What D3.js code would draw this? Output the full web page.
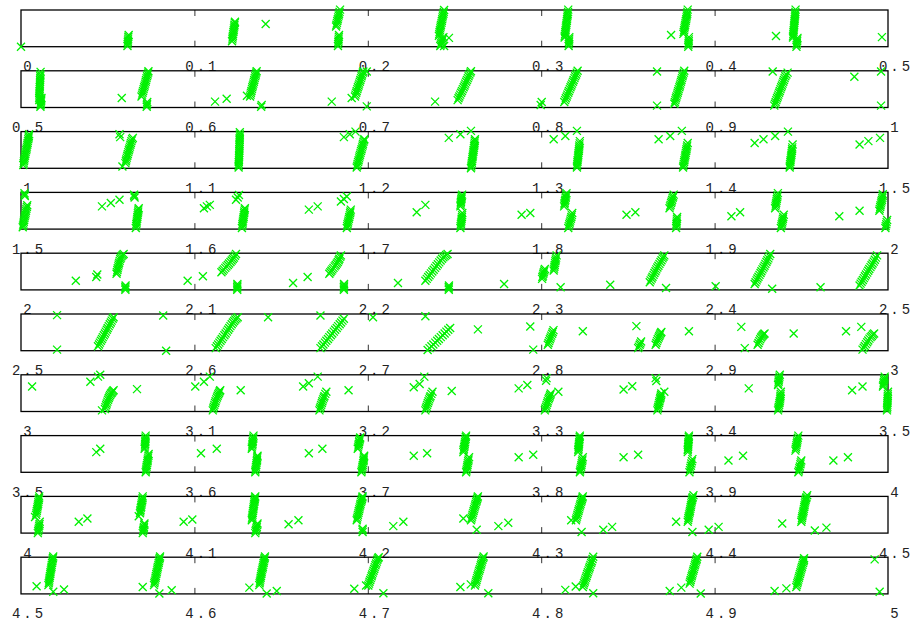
<!DOCTYPE html>
<html>
<head>
<meta charset="utf-8">
<script src="https://cdn.jsdelivr.net/npm/d3@7"></script>
<style>
  body { margin: 0; background: #fff; }
  .tick line { stroke: #333; stroke-width: 1; }
  .lab text { font-family: "Liberation Mono", "DejaVu Sans Mono", monospace; font-size: 14px; fill: #222; letter-spacing: 3px; }
</style>
</head>
<body>
<div id="chart"></div>
<script>
// each strip shows half a unit of x, y runs 0..1 inside the strip
const stripWidth = 0.5

const strip0 = [
  [0.0000,0.00],
  [0.0614,0.02],[0.0615,0.07],[0.0616,0.12],[0.0617,0.17],[0.0618,0.22],[0.0619,0.27],[0.0621,0.32],
  [0.1217,0.15],[0.1219,0.20],[0.1220,0.25],[0.1222,0.30],[0.1223,0.35],[0.1225,0.40],[0.1227,0.45],[0.1228,0.50],[0.1230,0.55],[0.1231,0.60],[0.1233,0.65],[0.1234,0.68],
  [0.1411,0.62],
  [0.1817,0.55],[0.1819,0.60],[0.1822,0.65],[0.1824,0.70],[0.1827,0.75],[0.1829,0.80],[0.1832,0.85],[0.1834,0.90],[0.1837,0.95],[0.1840,1.01],
  [0.1828,0.02],[0.1829,0.07],[0.1830,0.12],[0.1831,0.17],[0.1832,0.22],[0.1833,0.27],[0.1834,0.32],
  [0.2410,0.30],[0.2412,0.35],[0.2414,0.40],[0.2416,0.45],[0.2418,0.50],[0.2420,0.55],[0.2422,0.60],[0.2425,0.65],[0.2427,0.70],[0.2429,0.75],[0.2431,0.80],[0.2433,0.85],[0.2436,0.90],[0.2438,0.95],[0.2440,1.00],
  [0.2418,0.02],[0.2421,0.06],[0.2424,0.10],[0.2427,0.14],[0.2430,0.18],[0.2433,0.22],[0.2436,0.26],[0.2468,0.24],[0.2440,0.02],
  [0.3135,0.25],[0.3136,0.30],[0.3138,0.35],[0.3139,0.40],[0.3141,0.45],[0.3142,0.50],[0.3143,0.55],[0.3145,0.60],[0.3146,0.65],[0.3148,0.70],[0.3149,0.75],[0.3150,0.80],[0.3152,0.85],[0.3153,0.90],[0.3155,0.95],[0.3156,1.01],
  [0.3158,0.02],[0.3159,0.07],[0.3160,0.12],[0.3161,0.17],[0.3162,0.22],[0.3162,0.26],
  [0.3749,0.32],
  [0.3820,0.35],[0.3822,0.40],[0.3824,0.45],[0.3826,0.50],[0.3828,0.55],[0.3830,0.60],[0.3832,0.65],[0.3834,0.70],[0.3836,0.75],[0.3838,0.80],[0.3840,0.85],[0.3842,0.90],[0.3843,0.95],[0.3845,1.01],
  [0.3848,0.00],[0.3849,0.05],[0.3850,0.10],[0.3851,0.15],[0.3851,0.20],[0.3852,0.26],
  [0.4354,0.29],
  [0.4452,0.25],[0.4453,0.30],[0.4454,0.35],[0.4455,0.40],[0.4456,0.45],[0.4457,0.50],[0.4458,0.55],[0.4459,0.60],[0.4460,0.65],[0.4461,0.70],[0.4462,0.75],[0.4463,0.80],[0.4464,0.85],[0.4465,0.90],[0.4466,0.95],[0.4467,1.01],
  [0.4472,0.00],[0.4473,0.05],[0.4474,0.10],[0.4476,0.15],[0.4477,0.20],[0.4478,0.24],
  [0.4965,0.26]
]

const strip1 = [
  [0.5105,0.20],[0.5105,0.25],[0.5106,0.30],[0.5106,0.35],[0.5107,0.40],[0.5107,0.45],[0.5108,0.50],[0.5108,0.55],[0.5109,0.60],[0.5109,0.65],[0.5110,0.70],[0.5110,0.75],[0.5111,0.80],[0.5111,0.85],[0.5112,0.90],[0.5113,0.97],
  [0.5112,0.02],[0.5113,0.06],[0.5114,0.10],[0.5115,0.14],[0.5116,0.18],[0.5117,0.22],[0.5118,0.26],
  [0.5581,0.26],
  [0.5695,0.30],[0.5698,0.35],[0.5701,0.40],[0.5704,0.45],[0.5707,0.50],[0.5710,0.55],[0.5713,0.60],[0.5716,0.65],[0.5719,0.70],[0.5721,0.75],[0.5724,0.80],[0.5727,0.85],[0.5730,0.90],[0.5733,0.95],[0.5735,0.99],
  [0.5725,0.02],[0.5726,0.06],[0.5727,0.10],[0.5728,0.15],
  [0.6119,0.16],[0.6186,0.24],[0.6303,0.32],
  [0.6321,0.30],[0.6324,0.35],[0.6326,0.40],[0.6329,0.45],[0.6332,0.50],[0.6334,0.55],[0.6337,0.60],[0.6340,0.65],[0.6343,0.70],[0.6345,0.75],[0.6348,0.80],[0.6351,0.85],[0.6354,0.90],[0.6356,0.95],[0.6359,0.99],
  [0.6388,0.07],[0.6385,0.02],
  [0.6792,0.16],[0.6907,0.26],
  [0.6926,0.30],[0.6929,0.35],[0.6933,0.40],[0.6936,0.45],[0.6940,0.50],[0.6943,0.55],[0.6947,0.60],[0.6950,0.65],[0.6954,0.70],[0.6957,0.75],[0.6961,0.80],[0.6964,0.85],[0.6967,0.90],[0.6971,0.95],[0.6974,0.98],
  [0.6994,0.98],[0.6994,0.03],
  [0.7388,0.16],
  [0.7518,0.20],[0.7523,0.25],[0.7528,0.30],[0.7533,0.35],[0.7538,0.40],[0.7543,0.45],[0.7548,0.50],[0.7553,0.55],[0.7558,0.60],[0.7562,0.65],[0.7567,0.70],[0.7572,0.75],[0.7577,0.80],[0.7581,0.85],[0.7586,0.90],[0.7591,0.95],[0.7595,0.99],
  [0.7997,0.07],[0.8003,0.15],
  [0.8133,0.15],[0.8138,0.20],[0.8142,0.25],[0.8147,0.30],[0.8151,0.35],[0.8156,0.40],[0.8160,0.45],[0.8165,0.50],[0.8169,0.55],[0.8174,0.60],[0.8178,0.65],[0.8183,0.70],[0.8187,0.75],[0.8192,0.80],[0.8196,0.85],[0.8201,0.90],[0.8205,0.95],[0.8210,1.00],
  [0.8668,0.98],[0.8668,0.05],
  [0.8768,0.10],[0.8771,0.15],[0.8774,0.20],[0.8777,0.25],[0.8780,0.30],[0.8784,0.35],[0.8787,0.40],[0.8790,0.45],[0.8793,0.50],[0.8797,0.55],[0.8800,0.60],[0.8803,0.65],[0.8806,0.70],[0.8809,0.75],[0.8812,0.80],[0.8815,0.85],[0.8818,0.90],[0.8822,0.95],[0.8825,1.00],
  [0.9335,0.98],
  [0.9344,0.05],[0.9348,0.10],[0.9352,0.15],[0.9356,0.20],[0.9360,0.25],[0.9364,0.30],[0.9368,0.35],[0.9372,0.40],[0.9376,0.45],[0.9380,0.50],[0.9384,0.55],[0.9388,0.60],[0.9392,0.65],[0.9396,0.70],[0.9400,0.75],[0.9404,0.80],[0.9408,0.85],[0.9414,0.90],[0.9421,0.95],
  [0.9806,0.84],[0.9960,0.98],[0.9960,0.05]
]

const strip2 = [
  [1.0013,0.09],[1.0015,0.14],[1.0017,0.19],[1.0019,0.24],[1.0021,0.29],[1.0023,0.34],[1.0025,0.39],[1.0027,0.44],[1.0030,0.49],[1.0032,0.54],[1.0034,0.59],[1.0036,0.64],[1.0038,0.69],[1.0040,0.74],[1.0042,0.79],[1.0044,0.84],[1.0045,0.88],[1.0047,0.93],
  [1.0568,0.93],[1.0572,0.85],[1.0585,0.05],
  [1.0602,0.14],[1.0605,0.19],[1.0607,0.24],[1.0610,0.29],[1.0613,0.34],[1.0616,0.39],[1.0619,0.44],[1.0622,0.49],[1.0625,0.54],[1.0628,0.59],[1.0631,0.64],[1.0634,0.69],[1.0637,0.74],[1.0641,0.79],[1.0645,0.83],
  [1.1255,0.02],[1.1255,0.07],[1.1256,0.12],[1.1256,0.17],[1.1257,0.22],[1.1257,0.27],[1.1258,0.32],[1.1258,0.37],[1.1259,0.42],[1.1259,0.47],[1.1259,0.52],[1.1260,0.57],[1.1260,0.62],[1.1260,0.67],[1.1261,0.72],[1.1261,0.77],[1.1261,0.82],[1.1262,0.87],[1.1262,0.92],[1.1262,0.98],
  [1.1862,0.85],[1.1896,0.93],[1.1929,1.00],
  [1.1936,0.02],[1.1939,0.07],[1.1941,0.12],[1.1944,0.17],[1.1947,0.22],[1.1950,0.27],[1.1952,0.32],[1.1955,0.37],[1.1958,0.42],[1.1961,0.47],[1.1964,0.52],[1.1967,0.57],[1.1970,0.62],[1.1972,0.67],[1.1975,0.72],[1.1978,0.76],[1.1980,0.79],
  [1.2467,0.83],[1.2534,0.93],[1.2595,1.02],
  [1.2595,0.00],[1.2597,0.05],[1.2598,0.10],[1.2600,0.15],[1.2601,0.20],[1.2603,0.25],[1.2604,0.30],[1.2606,0.35],[1.2607,0.40],[1.2609,0.45],[1.2610,0.50],[1.2612,0.55],[1.2613,0.60],[1.2615,0.65],[1.2616,0.70],[1.2617,0.75],[1.2618,0.79],
  [1.3072,0.79],[1.3139,0.88],[1.3206,1.02],
  [1.3206,0.02],[1.3207,0.07],[1.3208,0.12],[1.3209,0.17],[1.3210,0.22],[1.3212,0.27],[1.3213,0.32],[1.3214,0.37],[1.3215,0.42],[1.3217,0.47],[1.3218,0.52],[1.3219,0.57],[1.3220,0.62],[1.3222,0.68],[1.3223,0.74],
  [1.3677,0.79],[1.3744,0.88],[1.3811,1.02],
  [1.3818,0.02],[1.3820,0.07],[1.3822,0.12],[1.3824,0.17],[1.3826,0.22],[1.3828,0.27],[1.3830,0.32],[1.3832,0.37],[1.3834,0.42],[1.3836,0.47],[1.3838,0.52],[1.3840,0.57],[1.3842,0.62],[1.3845,0.69],
  [1.4231,0.69],[1.4282,0.79],[1.4349,0.88],[1.4423,1.00],
  [1.4433,0.02],[1.4434,0.07],[1.4435,0.12],[1.4437,0.17],[1.4438,0.22],[1.4440,0.27],[1.4441,0.32],[1.4443,0.37],[1.4444,0.42],[1.4446,0.47],[1.4447,0.52],[1.4448,0.57],[1.4450,0.65],
  [1.4836,0.65],[1.4887,0.74],[1.4954,0.83]
]

const strip3 = [
  [1.5020,0.98],[1.5021,0.94],[1.5022,0.90],
  [1.5010,0.05],[1.5012,0.10],[1.5014,0.15],[1.5016,0.20],[1.5018,0.25],[1.5020,0.30],[1.5022,0.35],[1.5025,0.40],[1.5027,0.45],[1.5029,0.50],[1.5031,0.55],[1.5034,0.60],[1.5036,0.65],
  [1.5467,0.62],[1.5518,0.71],[1.5568,0.80],[1.5652,0.94],[1.5653,0.90],[1.5655,0.86],
  [1.5662,0.03],[1.5664,0.08],[1.5665,0.13],[1.5667,0.18],[1.5668,0.23],[1.5670,0.28],[1.5671,0.33],[1.5673,0.38],[1.5674,0.43],[1.5676,0.48],[1.5677,0.53],[1.5679,0.57],
  [1.6055,0.57],[1.6072,0.62],[1.6089,0.66],[1.6240,0.80],[1.6250,0.86],[1.6257,0.93],
  [1.6274,0.03],[1.6276,0.08],[1.6277,0.13],[1.6279,0.18],[1.6280,0.23],[1.6282,0.28],[1.6284,0.33],[1.6285,0.38],[1.6287,0.43],[1.6288,0.48],[1.6290,0.53],[1.6291,0.57],
  [1.6660,0.53],[1.6711,0.62],[1.6845,0.75],[1.6862,0.82],[1.6879,0.89],
  [1.6879,0.03],[1.6881,0.08],[1.6883,0.13],[1.6886,0.18],[1.6888,0.23],[1.6891,0.28],[1.6893,0.33],[1.6896,0.38],[1.6898,0.43],[1.6900,0.48],[1.6902,0.53],
  [1.7282,0.46],[1.7332,0.66],
  [1.7534,0.62],[1.7535,0.66],[1.7536,0.70],[1.7537,0.74],[1.7538,0.78],[1.7540,0.82],[1.7541,0.86],[1.7542,0.90],[1.7544,0.94],
  [1.7534,0.03],[1.7535,0.08],[1.7537,0.13],[1.7538,0.18],[1.7540,0.23],[1.7541,0.28],[1.7543,0.33],[1.7544,0.38],[1.7545,0.44],
  [1.7887,0.39],[1.7937,0.44],
  [1.8132,0.62],[1.8134,0.67],[1.8135,0.71],[1.8137,0.76],[1.8139,0.80],[1.8141,0.85],[1.8142,0.89],[1.8144,0.94],[1.8146,0.98],
  [1.8156,0.03],[1.8159,0.08],[1.8162,0.13],[1.8165,0.18],[1.8168,0.23],[1.8171,0.28],[1.8174,0.33],[1.8177,0.38],[1.8179,0.44],
  [1.8492,0.39],[1.8543,0.46],
  [1.8740,0.57],[1.8743,0.62],[1.8746,0.66],[1.8749,0.71],[1.8752,0.75],[1.8755,0.80],[1.8758,0.85],[1.8761,0.89],[1.8764,0.94],
  [1.8778,0.03],[1.8779,0.08],[1.8780,0.13],[1.8781,0.18],[1.8782,0.23],[1.8783,0.28],[1.8784,0.33],
  [1.9097,0.35],[1.9147,0.46],
  [1.9349,0.57],[1.9351,0.62],[1.9353,0.67],[1.9355,0.72],[1.9357,0.77],[1.9359,0.82],[1.9361,0.87],[1.9363,0.92],[1.9365,0.98],
  [1.9382,0.03],[1.9385,0.08],[1.9387,0.13],[1.9390,0.18],[1.9392,0.23],[1.9394,0.28],[1.9396,0.33],[1.9399,0.39],
  [1.9719,0.35],[1.9836,0.50],
  [1.9950,0.50],[1.9952,0.55],[1.9955,0.60],[1.9957,0.65],[1.9960,0.70],[1.9962,0.75],[1.9965,0.80],[1.9967,0.85],[1.9969,0.90],[1.9970,0.95],
  [1.9985,0.03],[1.9987,0.08],[1.9990,0.13],[1.9992,0.19],[1.9995,0.25]
]

const strip4 = [
  [2.0316,0.25],[2.0434,0.35],[2.0440,0.42],
  [2.0551,0.44],[2.0553,0.49],[2.0556,0.54],[2.0558,0.59],[2.0561,0.64],[2.0563,0.69],[2.0566,0.74],[2.0569,0.79],[2.0572,0.84],[2.0576,0.88],[2.0580,0.92],[2.0586,0.95],[2.0592,0.98],
  [2.0602,0.00],[2.0602,0.04],[2.0602,0.08],[2.0603,0.12],
  [2.0961,0.25],[2.1049,0.37],
  [2.1156,0.48],[2.1163,0.52],[2.1170,0.56],[2.1178,0.60],[2.1185,0.64],[2.1193,0.68],[2.1200,0.72],[2.1208,0.76],[2.1215,0.80],[2.1222,0.84],[2.1228,0.88],[2.1234,0.93],[2.1240,0.98],
  [2.1247,0.00],[2.1247,0.04],[2.1247,0.08],[2.1248,0.12],[2.1248,0.16],
  [2.1569,0.19],[2.1653,0.35],
  [2.1778,0.44],[2.1784,0.48],[2.1790,0.52],[2.1796,0.56],[2.1802,0.60],[2.1809,0.64],[2.1815,0.68],[2.1821,0.72],[2.1827,0.76],[2.1832,0.81],[2.1836,0.85],[2.1841,0.90],[2.1845,0.94],
  [2.1862,0.00],[2.1862,0.04],[2.1862,0.08],[2.1863,0.12],[2.1863,0.16],
  [2.2174,0.19],
  [2.2332,0.25],[2.2340,0.30],[2.2348,0.35],[2.2356,0.40],[2.2364,0.45],[2.2372,0.50],[2.2380,0.55],[2.2388,0.60],[2.2396,0.65],[2.2404,0.70],[2.2412,0.75],[2.2420,0.80],[2.2428,0.85],[2.2436,0.89],[2.2444,0.92],[2.2452,0.95],[2.2460,0.98],
  [2.2467,0.00],[2.2467,0.04],[2.2467,0.08],[2.2468,0.12],
  [2.2786,0.16],
  [2.3005,0.30],[2.3007,0.35],[2.3010,0.39],[2.3012,0.44],[2.3015,0.48],[2.3018,0.53],[2.3021,0.57],
  [2.3072,0.53],[2.3074,0.58],[2.3076,0.63],[2.3078,0.68],[2.3080,0.73],[2.3082,0.78],[2.3084,0.83],[2.3086,0.88],[2.3089,0.94],
  [2.3112,0.07],
  [2.3398,0.14],
  [2.3626,0.21],[2.3631,0.26],[2.3637,0.31],[2.3642,0.36],[2.3648,0.41],[2.3653,0.46],[2.3659,0.51],[2.3664,0.56],[2.3670,0.61],[2.3676,0.66],[2.3682,0.71],[2.3688,0.76],[2.3694,0.81],[2.3700,0.86],[2.3705,0.90],[2.3710,0.94],
  [2.3720,0.05],
  [2.4006,0.10],
  [2.4231,0.16],[2.4236,0.21],[2.4242,0.26],[2.4247,0.31],[2.4253,0.36],[2.4259,0.41],[2.4265,0.46],[2.4270,0.51],[2.4276,0.56],[2.4282,0.61],[2.4288,0.66],[2.4293,0.71],[2.4299,0.76],[2.4304,0.81],[2.4310,0.86],[2.4315,0.92],[2.4321,0.98],
  [2.4332,0.03],
  [2.4611,0.07],
  [2.4836,0.12],[2.4842,0.17],[2.4848,0.22],[2.4855,0.27],[2.4861,0.32],[2.4867,0.37],[2.4873,0.42],[2.4880,0.47],[2.4886,0.52],[2.4892,0.57],[2.4899,0.62],[2.4905,0.67],[2.4911,0.72],[2.4918,0.77],[2.4924,0.82],[2.4930,0.88],[2.4937,0.94]
]

const strip5 = [
  [2.5208,0.97],[2.5208,0.03],
  [2.5444,0.12],[2.5450,0.17],[2.5455,0.22],[2.5461,0.27],[2.5467,0.32],[2.5472,0.37],[2.5478,0.42],[2.5484,0.47],[2.5489,0.52],[2.5495,0.57],[2.5500,0.62],[2.5506,0.67],[2.5512,0.72],[2.5518,0.77],[2.5523,0.82],[2.5529,0.87],[2.5534,0.91],
  [2.5820,0.96],[2.5837,0.00],
  [2.6123,0.07],[2.6130,0.12],[2.6137,0.17],[2.6144,0.22],[2.6151,0.27],[2.6158,0.32],[2.6165,0.37],[2.6173,0.42],[2.6180,0.47],[2.6187,0.52],[2.6194,0.57],[2.6201,0.62],[2.6208,0.67],[2.6215,0.72],[2.6222,0.77],[2.6229,0.81],[2.6236,0.85],[2.6243,0.88],[2.6250,0.91],
  [2.6425,0.91],[2.6727,0.96],
  [2.6727,0.07],[2.6736,0.12],[2.6744,0.17],[2.6753,0.22],[2.6761,0.27],[2.6770,0.32],[2.6778,0.37],[2.6787,0.42],[2.6795,0.47],[2.6804,0.52],[2.6812,0.57],[2.6821,0.62],[2.6829,0.67],[2.6838,0.72],[2.6846,0.77],[2.6854,0.82],[2.6862,0.87],
  [2.7030,0.91],[2.7332,0.94],
  [2.7345,0.02],[2.7356,0.07],[2.7367,0.12],[2.7378,0.17],[2.7389,0.22],[2.7400,0.27],[2.7410,0.32],[2.7421,0.37],[2.7432,0.42],[2.7443,0.47],[2.7453,0.52],[2.7464,0.57],[2.7475,0.62],
  [2.7635,0.58],[2.7937,0.66],[2.7954,0.03],
  [2.8038,0.16],[2.8042,0.21],[2.8046,0.26],[2.8050,0.31],[2.8054,0.36],[2.8058,0.41],[2.8063,0.46],[2.8067,0.51],[2.8071,0.56],
  [2.8240,0.53],[2.8549,0.67],
  [2.8559,0.07],[2.8563,0.11],[2.8568,0.16],[2.8572,0.20],[2.8576,0.25],
  [2.8660,0.16],[2.8664,0.21],[2.8668,0.26],[2.8672,0.31],[2.8677,0.36],[2.8681,0.40],[2.8685,0.44],[2.8689,0.48],[2.8693,0.51],
  [2.8852,0.53],[2.9154,0.65],[2.9174,0.07],
  [2.9248,0.16],[2.9253,0.21],[2.9258,0.26],[2.9263,0.31],[2.9268,0.36],[2.9273,0.39],[2.9278,0.42],[2.9283,0.45],[2.9288,0.47],
  [2.9456,0.47],[2.9758,0.53],[2.9846,0.65],
  [2.9853,0.03],[2.9860,0.08],[2.9866,0.13],[2.9873,0.18],[2.9880,0.23],[2.9886,0.28],[2.9893,0.33],[2.9900,0.37],[2.9907,0.40],[2.9913,0.44],[2.9920,0.47]
]

const strip6 = [
  [3.0064,0.68],
  [3.0400,0.81],[3.0444,0.95],[3.0457,1.00],[3.0467,0.03],
  [3.0484,0.07],[3.0487,0.12],[3.0491,0.17],[3.0494,0.22],[3.0498,0.27],[3.0502,0.32],[3.0506,0.37],[3.0510,0.41],[3.0514,0.45],[3.0519,0.49],[3.0524,0.52],[3.0529,0.55],[3.0534,0.58],
  [3.0669,0.61],
  [3.1005,0.68],[3.1055,0.81],[3.1089,0.95],
  [3.1106,0.03],[3.1109,0.08],[3.1112,0.13],[3.1115,0.18],[3.1119,0.23],[3.1122,0.28],[3.1126,0.33],[3.1130,0.38],[3.1134,0.43],[3.1138,0.47],[3.1142,0.51],[3.1146,0.55],[3.1149,0.58],
  [3.1267,0.58],
  [3.1627,0.68],[3.1660,0.77],[3.1711,0.95],
  [3.1721,0.03],[3.1724,0.08],[3.1728,0.13],[3.1731,0.18],[3.1735,0.23],[3.1738,0.28],[3.1742,0.33],[3.1746,0.38],[3.1750,0.42],[3.1755,0.48],[3.1761,0.54],
  [3.1889,0.58],
  [3.2265,0.66],[3.2299,0.75],[3.2326,0.95],
  [3.2332,0.03],[3.2335,0.08],[3.2339,0.13],[3.2342,0.18],[3.2346,0.23],[3.2350,0.28],[3.2354,0.33],[3.2358,0.38],[3.2362,0.42],[3.2367,0.48],[3.2373,0.54],
  [3.2484,0.56],
  [3.2870,0.63],[3.2920,0.72],[3.3031,0.91],[3.3028,0.84],
  [3.3021,0.03],[3.3024,0.08],[3.3028,0.13],[3.3031,0.18],[3.3035,0.23],[3.3038,0.28],[3.3042,0.33],[3.3045,0.37],[3.3049,0.41],[3.3052,0.45],[3.3055,0.49],
  [3.3099,0.54],
  [3.3475,0.60],[3.3525,0.69],[3.3660,0.91],[3.3664,0.83],
  [3.3670,0.03],[3.3672,0.08],[3.3675,0.13],[3.3677,0.18],[3.3680,0.23],[3.3682,0.28],[3.3685,0.33],[3.3687,0.37],[3.3689,0.41],[3.3691,0.45],[3.3693,0.49],
  [3.3710,0.54],
  [3.4197,0.63],
  [3.4366,0.72],[3.4367,0.76],[3.4369,0.81],[3.4370,0.85],[3.4372,0.90],[3.4374,0.95],[3.4376,1.00],
  [3.4366,0.03],[3.4368,0.08],[3.4370,0.13],[3.4372,0.18],[3.4374,0.23],[3.4376,0.28],[3.4378,0.33],[3.4379,0.38],[3.4380,0.43],[3.4381,0.48],[3.4382,0.54],
  [3.4793,0.58],[3.4853,0.68],
  [3.4971,0.68],[3.4973,0.72],[3.4975,0.77],[3.4976,0.81],[3.4978,0.86],[3.4980,0.90],[3.4981,0.95],
  [3.4994,0.03],[3.4995,0.08],[3.4996,0.13],[3.4996,0.18],[3.4997,0.23],[3.4997,0.28],[3.4998,0.33],[3.4998,0.38],[3.4999,0.43],[3.4999,0.48],[3.5000,0.54]
]

const strip7 = [
  [3.5434,0.55],[3.5457,0.64],
  [3.5713,0.64],[3.5714,0.68],[3.5715,0.73],[3.5716,0.77],[3.5717,0.82],[3.5717,0.86],[3.5718,0.91],[3.5718,0.95],[3.5719,1.00],
  [3.5719,0.00],[3.5721,0.05],[3.5722,0.10],[3.5724,0.15],[3.5726,0.20],[3.5728,0.25],[3.5730,0.30],[3.5731,0.35],[3.5733,0.40],[3.5735,0.45],[3.5736,0.50],
  [3.6038,0.52],[3.6129,0.64],
  [3.6331,0.64],[3.6332,0.68],[3.6334,0.73],[3.6335,0.77],[3.6336,0.82],[3.6337,0.86],[3.6339,0.91],[3.6340,0.95],[3.6341,1.00],
  [3.6351,0.00],[3.6352,0.05],[3.6354,0.10],[3.6355,0.15],[3.6357,0.20],[3.6358,0.25],[3.6360,0.30],[3.6361,0.34],[3.6362,0.38],[3.6363,0.42],[3.6364,0.45],
  [3.6660,0.52],[3.6738,0.64],
  [3.6942,0.64],[3.6944,0.68],[3.6946,0.73],[3.6948,0.77],[3.6950,0.82],[3.6951,0.85],[3.6953,0.89],[3.6955,0.92],[3.6956,0.95],
  [3.6963,0.00],[3.6965,0.05],[3.6967,0.10],[3.6969,0.15],[3.6971,0.20],[3.6973,0.25],[3.6975,0.30],[3.6976,0.34],[3.6977,0.38],[3.6978,0.42],[3.6979,0.45],
  [3.7265,0.45],[3.7342,0.52],
  [3.7551,0.55],[3.7552,0.60],[3.7554,0.64],[3.7556,0.69],[3.7558,0.73],[3.7559,0.78],[3.7561,0.82],[3.7562,0.87],[3.7564,0.91],[3.7565,0.96],[3.7567,1.00],
  [3.7567,0.00],[3.7569,0.05],[3.7571,0.10],[3.7573,0.15],[3.7575,0.20],[3.7577,0.25],[3.7579,0.30],[3.7581,0.35],[3.7584,0.41],
  [3.7870,0.41],[3.7954,0.48],
  [3.8213,0.55],[3.8214,0.60],[3.8215,0.64],[3.8216,0.69],[3.8217,0.73],[3.8218,0.78],[3.8219,0.82],[3.8220,0.87],[3.8221,0.91],[3.8222,0.96],[3.8223,1.00],
  [3.8223,0.00],[3.8225,0.05],[3.8227,0.10],[3.8230,0.15],[3.8232,0.20],[3.8234,0.25],[3.8236,0.30],[3.8238,0.35],[3.8240,0.41],
  [3.8475,0.41],[3.8559,0.48],
  [3.8845,0.55],[3.8845,0.60],[3.8846,0.64],[3.8847,0.69],[3.8848,0.73],[3.8848,0.78],[3.8849,0.82],[3.8850,0.87],[3.8851,0.91],[3.8851,0.96],[3.8852,1.00],
  [3.8855,0.00],[3.8858,0.06],[3.8860,0.12],[3.8863,0.18],[3.8866,0.24],[3.8869,0.30],[3.8872,0.36],
  [3.9080,0.32],[3.9164,0.45],
  [3.9466,0.59],[3.9468,0.64],[3.9470,0.69],[3.9472,0.74],[3.9474,0.79],[3.9476,0.84],[3.9478,0.89],[3.9480,0.94],[3.9483,1.00],
  [3.9483,0.00],[3.9486,0.05],[3.9489,0.11],[3.9492,0.16],[3.9495,0.22],[3.9497,0.27],[3.9500,0.32],
  [3.9685,0.32],[3.9769,0.41]
]

const strip8 = [
  [4.0087,0.50],[4.0089,0.55],[4.0091,0.60],[4.0093,0.65],[4.0095,0.70],[4.0097,0.75],[4.0099,0.80],[4.0100,0.85],[4.0102,0.90],[4.0104,0.95],[4.0105,1.00],
  [4.0081,0.44],
  [4.0097,0.00],[4.0099,0.05],[4.0101,0.10],[4.0103,0.15],[4.0105,0.20],[4.0107,0.25],[4.0108,0.31],
  [4.0333,0.31],[4.0383,0.40],
  [4.0686,0.54],[4.0688,0.59],[4.0689,0.63],[4.0691,0.68],[4.0693,0.72],[4.0694,0.77],[4.0696,0.81],[4.0698,0.86],[4.0699,0.90],[4.0701,0.95],[4.0702,1.00],
  [4.0679,0.46],
  [4.0702,0.00],[4.0704,0.05],[4.0706,0.09],[4.0708,0.13],[4.0709,0.17],[4.0711,0.22],[4.0712,0.26],
  [4.0938,0.31],[4.0988,0.37],
  [4.1331,0.35],[4.1332,0.40],[4.1334,0.45],[4.1335,0.50],[4.1337,0.55],[4.1338,0.60],[4.1340,0.65],[4.1341,0.70],[4.1343,0.75],[4.1344,0.80],[4.1346,0.85],[4.1347,0.89],[4.1348,0.93],[4.1350,0.97],[4.1351,1.00],
  [4.1351,0.00],[4.1353,0.05],[4.1355,0.09],[4.1358,0.13],[4.1360,0.17],[4.1362,0.22],[4.1364,0.26],
  [4.1543,0.24],[4.1600,0.35],
  [4.1936,0.35],[4.1938,0.40],[4.1941,0.45],[4.1943,0.50],[4.1946,0.55],[4.1948,0.60],[4.1951,0.65],[4.1953,0.70],[4.1956,0.75],[4.1958,0.80],[4.1961,0.85],[4.1964,0.89],[4.1966,0.93],[4.1968,0.97],[4.1970,1.00],
  [4.1970,0.03],[4.1970,0.08],[4.1970,0.12],
  [4.2147,0.19],[4.2205,0.31],
  [4.2551,0.40],
  [4.2595,0.35],[4.2598,0.40],[4.2601,0.45],[4.2604,0.50],[4.2607,0.55],[4.2610,0.60],[4.2613,0.65],[4.2616,0.70],[4.2619,0.75],[4.2622,0.80],[4.2625,0.85],[4.2628,0.89],[4.2630,0.93],[4.2633,0.97],[4.2635,1.00],
  [4.2628,0.09],
  [4.2753,0.19],[4.2810,0.28],
  [4.3173,0.35],
  [4.3200,0.35],[4.3203,0.40],[4.3206,0.45],[4.3209,0.50],[4.3212,0.55],[4.3215,0.60],[4.3218,0.65],[4.3221,0.70],[4.3224,0.75],[4.3227,0.80],[4.3230,0.85],[4.3233,0.89],[4.3235,0.93],[4.3238,0.97],[4.3240,1.00],
  [4.3233,0.03],
  [4.3358,0.09],[4.3409,0.17],
  [4.3778,0.31],
  [4.3845,0.31],[4.3847,0.36],[4.3849,0.41],[4.3851,0.46],[4.3853,0.51],[4.3856,0.56],[4.3858,0.61],[4.3860,0.66],[4.3862,0.71],[4.3864,0.76],[4.3866,0.81],[4.3868,0.86],[4.3870,0.91],[4.3872,0.95],[4.3874,0.98],[4.3878,1.03],
  [4.3872,0.03],
  [4.3966,0.09],[4.4023,0.17],
  [4.4390,0.26],
  [4.4500,0.31],[4.4502,0.36],[4.4504,0.41],[4.4506,0.46],[4.4508,0.51],[4.4511,0.56],[4.4513,0.61],[4.4515,0.66],[4.4517,0.71],[4.4519,0.76],[4.4521,0.81],[4.4523,0.86],[4.4525,0.91],[4.4528,0.95],[4.4530,0.98],[4.4534,1.03],
  [4.4578,0.07],[4.4645,0.15]
]

const strip9 = [
  [4.5090,0.21],
  [4.5158,0.24],[4.5160,0.29],[4.5162,0.34],[4.5163,0.39],[4.5165,0.44],[4.5167,0.49],[4.5169,0.54],[4.5170,0.59],[4.5172,0.64],[4.5174,0.69],[4.5176,0.74],[4.5177,0.79],[4.5179,0.84],[4.5181,0.89],[4.5183,0.94],[4.5184,0.98],[4.5186,1.02],
  [4.5186,0.06],[4.5248,0.12],
  [4.5702,0.19],
  [4.5767,0.24],[4.5769,0.29],[4.5771,0.34],[4.5774,0.39],[4.5776,0.44],[4.5778,0.49],[4.5780,0.54],[4.5783,0.59],[4.5785,0.64],[4.5787,0.69],[4.5789,0.74],[4.5792,0.79],[4.5794,0.84],[4.5796,0.89],[4.5798,0.94],[4.5800,0.98],[4.5802,1.02],
  [4.5798,0.01],[4.5869,0.10],
  [4.6317,0.17],
  [4.6374,0.24],[4.6376,0.29],[4.6378,0.34],[4.6380,0.39],[4.6382,0.44],[4.6384,0.49],[4.6386,0.54],[4.6388,0.59],[4.6390,0.64],[4.6393,0.69],[4.6395,0.74],[4.6397,0.79],[4.6399,0.84],[4.6401,0.89],[4.6403,0.94],[4.6405,0.98],[4.6407,1.02],
  [4.6417,0.01],[4.6475,0.08],
  [4.6922,0.14],[4.6990,0.23],
  [4.7003,0.23],[4.7007,0.28],[4.7010,0.33],[4.7014,0.38],[4.7018,0.43],[4.7022,0.48],[4.7025,0.53],[4.7029,0.58],[4.7033,0.63],[4.7037,0.68],[4.7040,0.73],[4.7044,0.78],[4.7048,0.83],[4.7052,0.88],[4.7055,0.93],[4.7059,0.97],[4.7063,1.00],
  [4.7090,0.02],
  [4.7534,0.19],[4.7594,0.26],
  [4.7618,0.23],[4.7621,0.28],[4.7624,0.33],[4.7627,0.38],[4.7630,0.43],[4.7633,0.48],[4.7636,0.53],[4.7639,0.58],[4.7642,0.63],[4.7646,0.68],[4.7649,0.73],[4.7652,0.78],[4.7655,0.83],[4.7658,0.88],[4.7661,0.93],[4.7665,0.98],[4.7668,1.02],
  [4.7695,0.02],
  [4.8139,0.11],[4.8199,0.20],
  [4.8240,0.19],[4.8244,0.24],[4.8247,0.29],[4.8251,0.34],[4.8254,0.39],[4.8258,0.44],[4.8262,0.49],[4.8265,0.54],[4.8269,0.59],[4.8273,0.64],[4.8277,0.69],[4.8280,0.74],[4.8284,0.79],[4.8288,0.84],[4.8292,0.89],[4.8296,0.95],[4.8300,1.01],
  [4.8300,0.02],
  [4.8741,0.08],[4.8808,0.17],
  [4.8856,0.28],[4.8859,0.33],[4.8862,0.38],[4.8865,0.43],[4.8868,0.48],[4.8871,0.53],[4.8874,0.58],[4.8877,0.63],[4.8880,0.68],[4.8883,0.73],[4.8886,0.78],[4.8889,0.83],[4.8892,0.88],[4.8895,0.92],[4.8897,0.96],[4.8900,1.01],
  [4.8920,0.01],
  [4.9346,0.08],[4.9414,0.15],
  [4.9471,0.19],[4.9474,0.24],[4.9477,0.29],[4.9480,0.34],[4.9483,0.39],[4.9486,0.44],[4.9489,0.49],[4.9492,0.54],[4.9495,0.59],[4.9498,0.64],[4.9501,0.69],[4.9504,0.74],[4.9507,0.79],[4.9510,0.84],[4.9513,0.89],[4.9515,0.93],[4.9516,0.97],
  [4.9923,0.94],[4.9952,0.06]
]

const strips = [strip0, strip1, strip2, strip3, strip4, strip5, strip6, strip7, strip8, strip9]

// layout
const width = 912
const height = 624
const left = 21
const right = 888
const top0 = 10
const stripStep = 60.8
const stripHeight = 36.7
const markSize = 4
const green = "#00f000"

const svg = d3
  .select("#chart")
  .append("svg")
  .attr("width", width)
  .attr("height", height)

svg.append("rect").attr("width", width).attr("height", height).attr("fill", "#fff")

strips.forEach(function(points, i) {
  const x0 = i * stripWidth
  const g = svg.append("g").attr("transform", "translate(0," + (top0 + i * stripStep) + ")")

  const xScale = d3.scaleLinear().domain([x0, x0 + stripWidth]).range([left, right])
  const yScale = d3.scaleLinear().domain([0, 1]).range([stripHeight, 0])

  const allTicks = d3.range(6).map(function(k) { return +(x0 + k * 0.1).toFixed(1) })
  const innerTicks = allTicks.slice(1, 5)

  // inward ticks top and bottom
  g.append("g")
    .attr("transform", "translate(0," + stripHeight + ")")
    .call(d3.axisBottom(xScale).tickValues(innerTicks).tickSize(-6).tickFormat(""))
    .call(function(a) { a.select(".domain").remove() })
  g.append("g")
    .call(d3.axisTop(xScale).tickValues(innerTicks).tickSize(-6).tickFormat(""))
    .call(function(a) { a.select(".domain").remove() })

  // labels under the strip
  g.append("g")
    .attr("class", "lab")
    .attr("transform", "translate(0," + stripHeight + ")")
    .call(d3.axisBottom(xScale).tickValues(allTicks).tickSize(0).tickPadding(14.5)
      .tickFormat(function(d) { return String(d) }))
    .call(function(a) {
      a.select(".domain").remove()
      a.selectAll("text").attr("dx", 7.5)
    })
    .attr("font-family", null)
    .attr("font-size", null)

  // frame
  g.append("rect")
    .attr("x", left)
    .attr("y", 0)
    .attr("width", right - left)
    .attr("height", stripHeight)
    .attr("fill", "none")
    .attr("stroke", "#000")
    .attr("stroke-width", 1.3)

  // x markers
  g.selectAll("path.pt")
    .data(points)
    .enter()
    .append("path")
    .attr("class", "pt")
    .attr("d", function(d) {
      const cx = xScale(d[0])
      const cy = yScale(d[1])
      const s = markSize
      return "M" + (cx - s) + "," + (cy - s) + "L" + (cx + s) + "," + (cy + s) +
        "M" + (cx - s) + "," + (cy + s) + "L" + (cx + s) + "," + (cy - s)
    })
    .attr("fill", "none")
    .attr("stroke", green)
    .attr("stroke-width", 1.3)
})
</script>
</body>
</html>
